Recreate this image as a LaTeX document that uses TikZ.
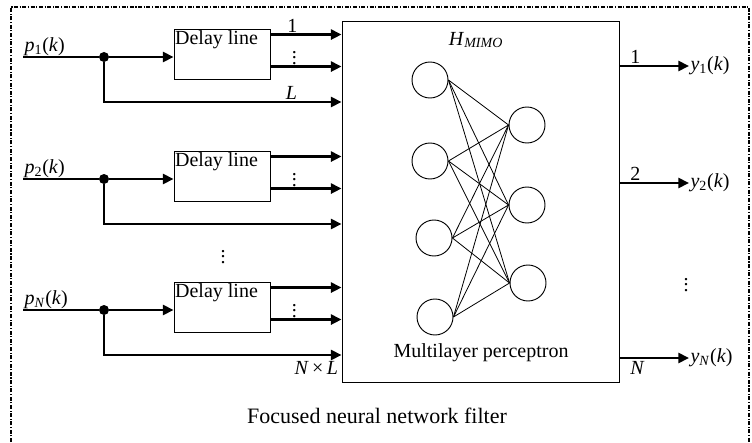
\documentclass[tikz,border=0pt]{standalone}
\usepackage{fontspec}
\setmainfont{Liberation Serif}
\usetikzlibrary{arrows.meta}
\usetikzlibrary{positioning}
\usetikzlibrary{calc}

\begin{document}
\begin{tikzpicture}[x=0.75pt, y=-0.75pt, font=\fontsize{15}{18}\selectfont,
  sig/.style={line width=2pt, -{Triangle[length=8pt,width=7.5pt]}},
  delay/.style={draw, line width=0.7pt, minimum width=72pt, minimum height=37.5pt,
    label={[anchor=north west, inner sep=1pt]north west:Delay line}},
  neuron/.style={circle, draw, line width=0.7pt, minimum size=27pt, inner sep=0pt},
  junction/.style={circle, fill, inner sep=0pt, minimum size=7.5pt},
  vdotsnode/.style={inner sep=0pt}]

  \useasboundingbox (0,0) rectangle (752,442);

  % Outer frame (open at the bottom)
  \draw[line width=1.1pt, dash pattern=on 3pt off 1.2pt on 0.8pt off 1.2pt]
    (11,442) -- (11,7) -- (749,7) -- (749,442);

  % MIMO block
  \node[draw, line width=0.7pt, minimum width=207.75pt, minimum height=270.75pt] (mimo) at (480.5,201.5) {};
  \node (hmimo) at (476,40) {\textit{H}\textsubscript{\textit{MIMO}}};
  \node (mlp) at (481,353) {Multilayer perceptron};

  % Left: inputs, delay lines and taps
  \foreach \i/\yy/\sub in {1/57/1, 2/179/2, N/310/\textit{N}} {
    \coordinate (in\i) at (23,\yy);
    \node[junction] (j\i) at (104,\yy) {};
    \node[delay] (d\i) at (222,\yy-3) {};
    \node[anchor=south west, inner sep=1pt] (p\i) at (in\i) {\textit{p}\textsubscript{\sub}(\textit{k})};
    \draw[line width=2pt] (in\i) -- (j\i);
    \draw[sig] (j\i) -- (d\i.west |- j\i);
    \draw[sig] (j\i) |- ($(mimo.west |- j\i)+(0,45)$);
    \draw[sig] ($(d\i.north east)+(0,6)$) -- ($(mimo.west |- d\i.north east)+(0,6)$);
    \draw[sig] ($(d\i.north east)+(0,38)$) -- ($(mimo.west |- d\i.north east)+(0,38)$);
    \node[vdotsnode] at ($(d\i.east)+(24,0)$) {$\vdots$};
  }
  \node[anchor=south, inner sep=1pt] at ($(d1.north east)+(22,6)$) {1};
  \node[anchor=south, inner sep=2pt] at ($(mimo.west |- j1)+(-50,45)$) {\textit{L}};
  \node[anchor=north east, inner sep=1pt] at ($(mimo.west |- jN)+(-2,50)$) {\textit{N}\,×\,\textit{L}};
  \node[vdotsnode] at (223,253) {$\vdots$};

  % Middle: multilayer perceptron
  \foreach \x/\y [count=\i] in {430/80, 430/161, 434/238, 435/317}
    \node[neuron] (l\i) at (\x,\y) {};
  \foreach \x/\y [count=\j] in {527/125, 527/205, 528/283}
    \node[neuron] (r\j) at (\x,\y) {};
  \foreach \i in {1,...,4}
    \foreach \j in {1,2,3}
      \draw[line width=0.6pt] (l\i.east) -- (r\j.west);

  % Right: outputs
  \foreach \i/\yy/\sub in {1/66/1, 2/183/2, N/358/\textit{N}} {
    \coordinate (o\i) at (mimo.east |- 0,\yy);
    \node[anchor=west, inner sep=1pt] (y\i) at (689,\yy) {\textit{y}\textsubscript{\sub}(\textit{k})};
    \draw[sig] (o\i) -- (y\i.west);
  }
  \node[anchor=south west, inner sep=2pt] at ($(o1)+(8,0)$) {1};
  \node[anchor=south west, inner sep=2pt] at ($(o2)+(8,0)$) {2};
  \node[anchor=north west, inner sep=2pt] at ($(oN)+(8,0)$) {\textit{N}};
  \node[vdotsnode] at (686,281) {$\vdots$};

  % Title
  \node[font=\fontsize{16.5}{20}\selectfont] (title) at (377,416) {Focused neural network filter};
\end{tikzpicture}
\end{document}
